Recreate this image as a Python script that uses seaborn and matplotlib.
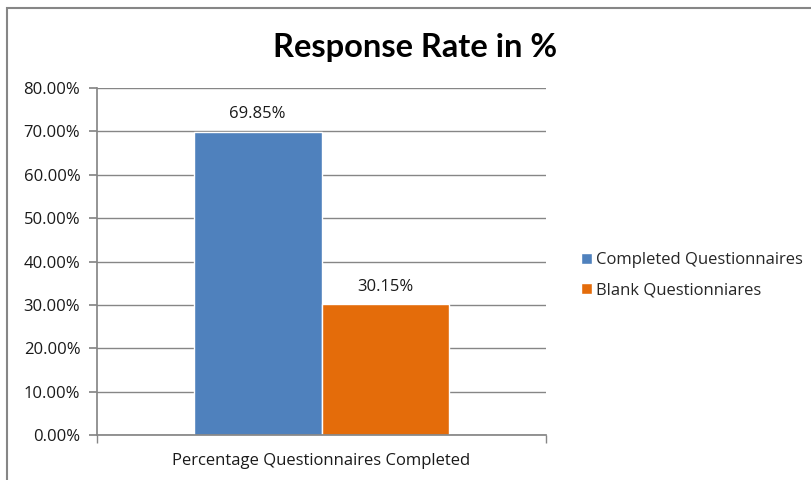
import matplotlib
matplotlib.use("Agg")
import matplotlib.pyplot as plt
import seaborn as sns
import pandas as pd
from matplotlib.ticker import FuncFormatter, FixedLocator
from matplotlib.patches import Rectangle

# Data
category = ["Percentage Questionnaires Completed"]
series_names = ["Completed Questionnaires", "Blank Questionniares"]
series_values = [69.85, 30.15]
colors = ["#4F81BD", "#E46C0A"]
title = "Response Rate in %"
y_ticks = [0, 10, 20, 30, 40, 50, 60, 70, 80]

df = pd.DataFrame({
    "cat": category * len(series_names),
    "series": series_names,
    "value": series_values,
})

sns.set_theme(style="white")
plt.rcParams["font.family"] = ["Open Sans", "DejaVu Sans"]

fig = plt.figure(figsize=(8.11, 4.80), dpi=100)
ax = fig.add_axes([97/811, 1-435/480, (546-97)/811, (435-88)/480])

sns.barplot(data=df, x="cat", y="value", hue="series", palette=colors,
            width=0.57, gap=0, saturation=1, ax=ax, legend=True)

ax.set_xlim(-0.5, 0.5)
ax.set_ylim(0, 80)
ax.yaxis.set_major_locator(FixedLocator(y_ticks))
ax.yaxis.set_major_formatter(FuncFormatter(lambda v, p: f"{v:.2f}%"))
ax.grid(axis="y", color="#868686", linewidth=1)
ax.set_axisbelow(True)
for s in ["top", "right"]:
    ax.spines[s].set_visible(False)
ax.spines["left"].set_color("#868686")
ax.spines["bottom"].set_color("#868686")
ax.set_xlabel("")
ax.set_ylabel("")
ax.tick_params(axis="y", which="major", length=6, color="#868686", left=True,
               labelsize=12, labelcolor="#1a1a1a", pad=6)
ax.tick_params(axis="x", which="major", length=0, labelsize=12, labelcolor="#1a1a1a", pad=13)
ax.set_xticks([-0.5, 0.5], minor=True)
ax.tick_params(axis="x", which="minor", length=6, color="#868686", bottom=True)

for cont in ax.containers:
    ax.bar_label(cont, labels=[f"{v:.2f}%" for v in cont.datavalues],
                 padding=7, fontsize=12, color="#1a1a1a")

leg = ax.legend(loc="center left", bbox_to_anchor=(574/811, 1-275/480),
                bbox_transform=fig.transFigure, frameon=False, fontsize=12,
                handlelength=0.65, handleheight=0.65, handletextpad=0.3,
                labelspacing=0.85, borderaxespad=0)

fig.text(415/811, 1-47/480, title, ha="center", va="center",
         fontsize=23.5, fontweight="bold", color="black", family="Lato")

fig.patches.append(Rectangle((7/811, -0.1), 1.2, 1-8/480+0.1,
                             transform=fig.transFigure, fill=False,
                             edgecolor="#868686", linewidth=1.5))

fig.savefig("out.png", dpi=100)
